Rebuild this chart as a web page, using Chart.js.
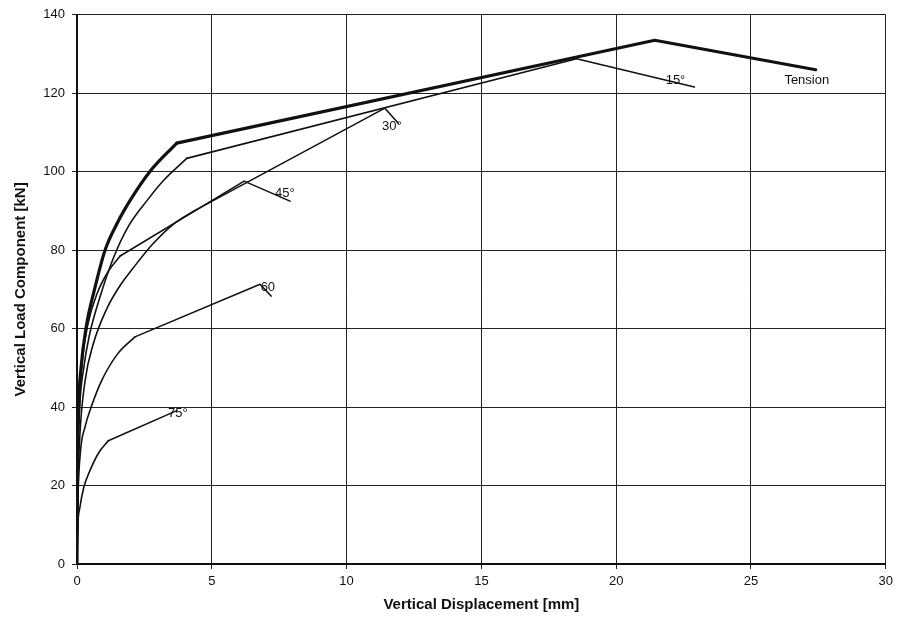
<!DOCTYPE html>
<html>
<head>
<meta charset="utf-8">
<script src="https://cdn.jsdelivr.net/npm/chart.js@4.4.1/dist/chart.umd.min.js"></script>
<style>
  html, body { margin: 0; padding: 0; background: #fff; }
  #wrap { width: 898px; height: 625px; }
</style>
</head>
<body>
<div id="wrap"><canvas id="chart"></canvas></div>
<script>
// tick labels
var xTicks = [0, 5, 10, 15, 20, 25, 30];
var yTicks = [0, 20, 40, 60, 80, 100, 120, 140];

// series (x in mm, y in kN)
var tensionX = [0, 0.02, 0.06, 0.15, 0.33, 0.65, 1.04, 1.5, 2.0, 2.7, 3.7, 21.43, 27.4];
var tensionY = [0, 25, 40, 50, 60, 70, 80, 87, 93, 100, 107.3, 133.5, 126];

var deg15X = [0, 0.03, 0.1, 0.25, 0.45, 0.85, 1.35, 1.9, 2.58, 3.2, 4.07, 18.53, 22.9];
var deg15Y = [0, 25, 40, 50, 58, 68, 78, 86, 92.5, 97.7, 103.4, 128.8, 121.6];

var deg30X = [0, 0.03, 0.1, 0.3, 0.6, 1.1, 1.6, 2.09, 2.8, 3.57, 4.31, 11.42, 11.91];
var deg30Y = [0, 18, 32, 46.7, 56, 65, 71, 75.5, 81.5, 86.6, 89.9, 116.2, 112.4];

var deg45X = [0, 0.02, 0.08, 0.2, 0.4, 0.75, 1.15, 1.6, 6.2, 7.9];
var deg45Y = [0, 22, 40, 52, 61, 69, 74.5, 78.5, 97.6, 92.5];

var deg60X = [0, 0.03, 0.12, 0.3, 0.55, 0.91, 1.5, 2.15, 6.79, 7.2];
var deg60Y = [0, 15, 28, 35, 40.5, 46.7, 53.5, 57.9, 71.3, 68.3];

var deg75X = [0, 0.02, 0.11, 0.25, 0.48, 0.8, 1.16, 3.7];
var deg75Y = [0, 8, 14.5, 19.5, 23.8, 28.3, 31.4, 39.1];

// index of the knee where each smooth curve turns into straight segments
var kneeIdx = {tension: 10, deg15: 10, deg30: 10, deg45: 7, deg60: 7, deg75: 6};

// curve labels, placed in data units
var labelText = ['Tension', '15°', '30°', '45°', '60', '75°'];
var labelX = [27.07, 22.2, 11.68, 7.71, 7.08, 3.74];
var labelY = [123.3, 123.3, 111.6, 94.5, 70.4, 38.3];

var FONT = '"Liberation Sans", Arial, sans-serif';

function pts(xs, ys) {
    return xs.map(function (x, i) { return {x: x, y: ys[i]}; });
}

// one series = a smooth rising part + straight segments after the knee
function series(name, xs, ys, knee, width) {
    var all = pts(xs, ys);
    var base = {
        borderColor: '#111',
        borderWidth: width,
        pointRadius: 0,
        fill: false,
        borderJoinStyle: 'round',
        borderCapStyle: 'round',
    };
    return [
        Object.assign({label: name, data: all.slice(0, knee + 1), cubicInterpolationMode: 'monotone'}, base),
        Object.assign({label: name + ' (post-knee)', data: all.slice(knee), tension: 0}, base),
    ];
}

var curveLabels = {
    id: 'curveLabels',
    afterDatasetsDraw: function (chart) {
        var ctx = chart.ctx;
        var xs = chart.scales.x, ys = chart.scales.y;
        ctx.save();
        ctx.font = '13px ' + FONT;
        ctx.fillStyle = '#111';
        ctx.textAlign = 'center';
        ctx.textBaseline = 'middle';
        labelText.forEach(function (t, i) {
            ctx.fillText(t, xs.getPixelForValue(labelX[i]), ys.getPixelForValue(labelY[i]));
        });
        ctx.restore();
    },
};

new Chart(document.getElementById('chart'), {
    type: 'line',
    data: {
        datasets: [].concat(
            series('Tension', tensionX, tensionY, kneeIdx.tension, 3.2),
            series('15°', deg15X, deg15Y, kneeIdx.deg15, 1.6),
            series('30°', deg30X, deg30Y, kneeIdx.deg30, 1.6),
            series('45°', deg45X, deg45Y, kneeIdx.deg45, 1.6),
            series('60', deg60X, deg60Y, kneeIdx.deg60, 1.6),
            series('75°', deg75X, deg75Y, kneeIdx.deg75, 1.6)
        ),
    },
    options: {
        responsive: true,
        maintainAspectRatio: false,
        animation: false,
        layout: {padding: {top: 13, right: 12, left: 0, bottom: 0}},
        plugins: {legend: {display: false}, tooltip: {enabled: false}},
        scales: {
            x: {
                type: 'linear',
                min: xTicks[0],
                max: xTicks[xTicks.length - 1],
                afterBuildTicks: function (s) { s.ticks = xTicks.map(function (v) { return {value: v}; }); },
                afterFit: function (s) { s.height = 61; },
                ticks: {color: '#111', font: {family: FONT, size: 13}, padding: 5, maxRotation: 0},
                grid: {color: '#222', lineWidth: 1, tickLength: 5, tickColor: '#222'},
                border: {color: '#111', width: 2},
                title: {
                    display: true,
                    text: 'Vertical Displacement [mm]',
                    color: '#111',
                    font: {family: FONT, size: 15, weight: 'bold'},
                    padding: {top: 0, bottom: 11},
                },
            },
            y: {
                type: 'linear',
                min: yTicks[0],
                max: yTicks[yTicks.length - 1],
                afterBuildTicks: function (s) { s.ticks = yTicks.map(function (v) { return {value: v}; }); },
                afterFit: function (s) { s.width = 77; },
                ticks: {color: '#111', font: {family: FONT, size: 13}, padding: 7},
                grid: {color: '#222', lineWidth: 1, tickLength: 5, tickColor: '#222'},
                border: {color: '#111', width: 2},
                title: {
                    display: true,
                    text: 'Vertical Load Component [kN]',
                    color: '#111',
                    font: {family: FONT, size: 15, weight: 'bold'},
                    padding: {top: 12, bottom: 0},
                },
            },
        },
    },
    plugins: [curveLabels],
});
</script>
</body>
</html>
